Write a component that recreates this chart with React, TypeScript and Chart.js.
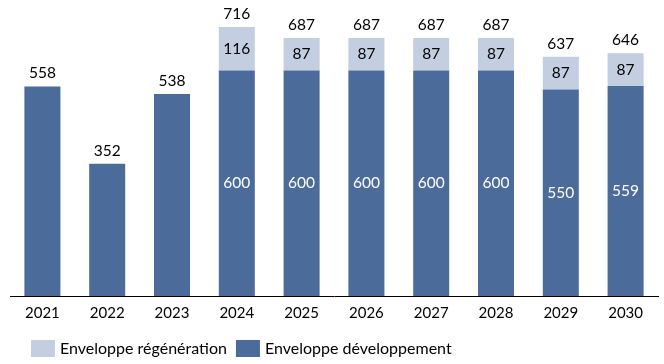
import React, { useEffect, useRef } from "react";
import { Chart, registerables } from "chart.js";

Chart.register(...registerables);

const categories = ["2021", "2022", "2023", "2024", "2025", "2026", "2027", "2028", "2029", "2030"];
const developpement = [558, 352, 538, 600, 600, 600, 600, 600, 550, 559];
const regeneration = [0, 0, 0, 116, 87, 87, 87, 87, 87, 87];
const seriesNames = ["Enveloppe régénération", "Enveloppe développement"];
const DARK = "#4b6b9a";
const LIGHT = "#c3cee0";
const FONT = "Lato, 'Open Sans', sans-serif";

const labelPlugin = {
  id: "valueLabels",
  afterDatasetsDraw(chart: any) {
    const ctx = chart.ctx;
    const devMeta = chart.getDatasetMeta(0);
    const regMeta = chart.getDatasetMeta(1);
    ctx.save();
    ctx.font = `15.5px ${FONT}`;
    ctx.textAlign = "center";
    ctx.textBaseline = "middle";
    categories.forEach((_, i) => {
      const d = devMeta.data[i];
      const r = regMeta.data[i];
      const hasReg = regeneration[i] > 0;
      if (hasReg) {
        ctx.fillStyle = "#ffffff";
        ctx.fillText(String(developpement[i]), d.x, (d.y + d.base) / 2);
        ctx.fillStyle = "#000000";
        ctx.fillText(String(regeneration[i]), r.x, (r.y + r.base) / 2);
      }
      const topY = hasReg ? r.y : d.y;
      ctx.fillStyle = "#000000";
      ctx.fillText(String(developpement[i] + regeneration[i]), d.x, topY - 13);
    });
    ctx.restore();
  },
};

const legendPlugin = {
  id: "customLegend",
  afterDraw(chart: any) {
    const ctx = chart.ctx;
    ctx.save();
    ctx.font = `16px ${FONT}`;
    ctx.textAlign = "left";
    ctx.textBaseline = "middle";
    const items = [
      { label: seriesNames[0], color: LIGHT },
      { label: seriesNames[1], color: DARK },
    ];
    let x = 31;
    const y = 340;
    items.forEach((it) => {
      ctx.fillStyle = it.color;
      ctx.fillRect(x, y, 24, 17);
      ctx.fillStyle = "#000000";
      ctx.fillText(it.label, x + 29, y + 9);
      x += 29 + ctx.measureText(it.label).width + 9;
    });
    ctx.restore();
  },
};

export default function App() {
  const ref = useRef<HTMLCanvasElement>(null);
  useEffect(() => {
    if (!ref.current) return;
    const chart = new Chart(ref.current, {
      type: "bar",
      data: {
        labels: categories,
        datasets: [
          {
            label: seriesNames[1],
            data: developpement,
            backgroundColor: DARK,
            categoryPercentage: 1,
            barPercentage: 0.556,
          },
          {
            label: seriesNames[0],
            data: regeneration,
            backgroundColor: LIGHT,
            categoryPercentage: 1,
            barPercentage: 0.556,
          },
        ],
      },
      options: {
        animation: false,
        responsive: false,
        maintainAspectRatio: false,
        layout: { padding: { left: 10, right: 6, top: 0, bottom: 0 } },
        plugins: { legend: { display: false }, tooltip: { enabled: false } },
        scales: {
          x: {
            stacked: true,
            grid: { display: false, drawTicks: false },
            border: { display: true, color: "#000000", width: 1 },
            ticks: { color: "#000000", font: { family: FONT, size: 15 }, padding: 8 },
            afterFit: (s: any) => {
              s.height = 68;
            },
          },
          y: {
            stacked: true,
            display: false,
            min: 0,
            max: 788,
          },
        },
      },
      plugins: [labelPlugin, legendPlugin],
    });
    return () => chart.destroy();
  }, []);
  return (
    <div style={{ position: "fixed", left: 0, top: 0, width: 664, height: 364, background: "#fff" }}>
      <canvas ref={ref} width={664} height={364} style={{ display: "block" }} />
    </div>
  );
}
